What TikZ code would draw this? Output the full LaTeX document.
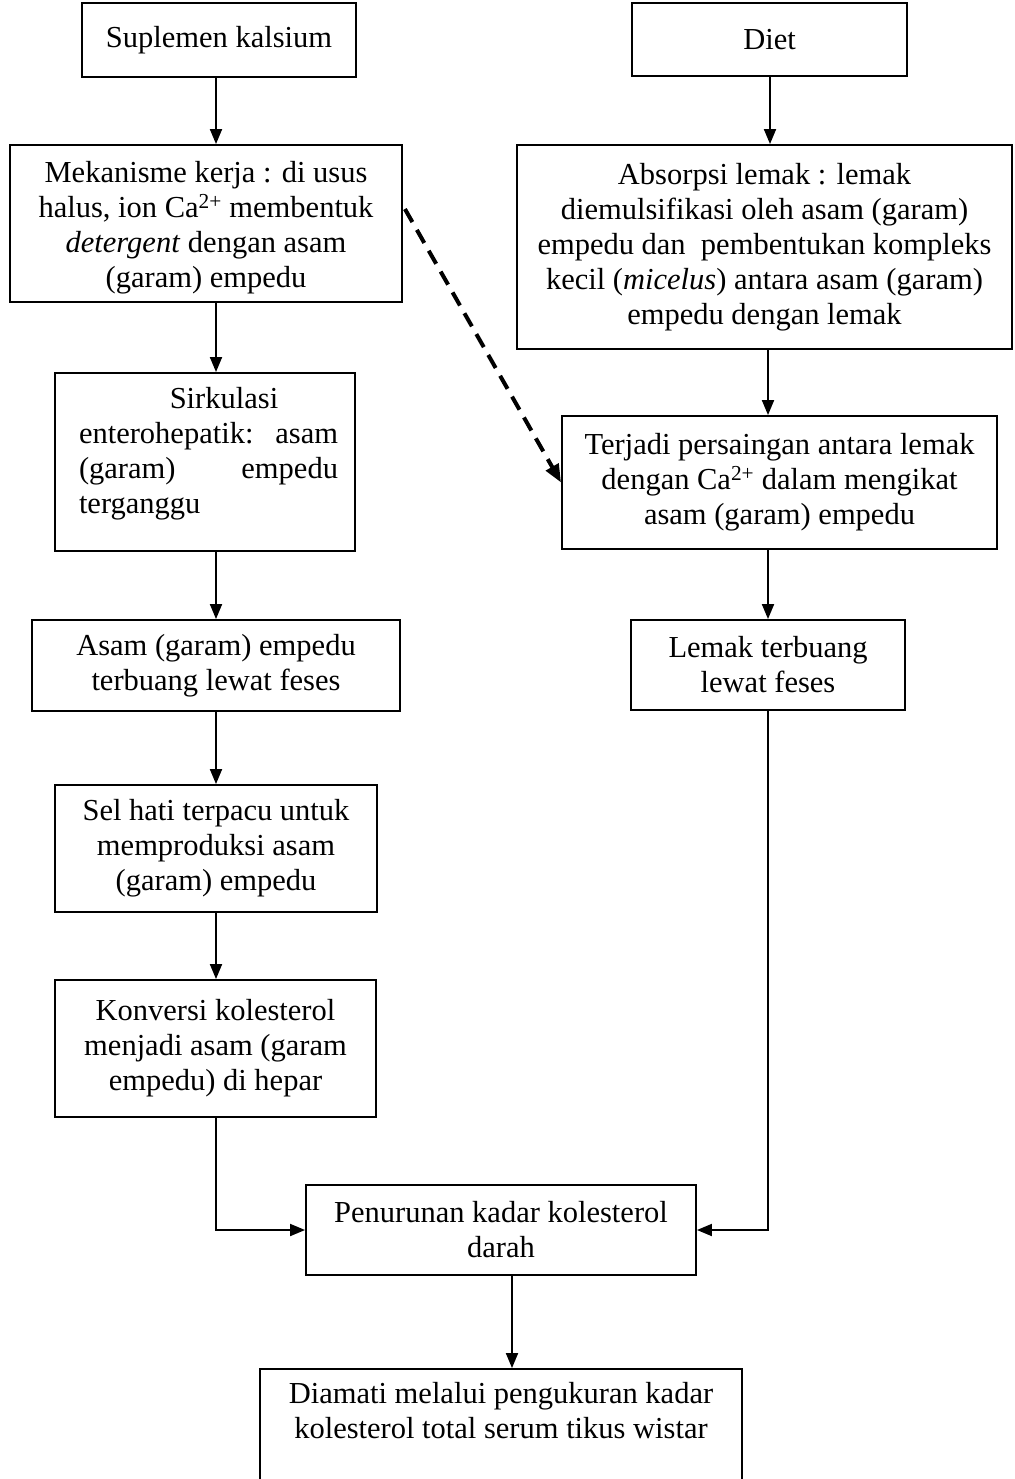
\documentclass[tikz,border=0pt]{standalone}
\usepackage{fontspec}
\setmainfont{Liberation Serif}
\usetikzlibrary{arrows.meta,calc}
\begin{document}
\begin{tikzpicture}[x=1pt,y=-1pt,
  box/.style={draw, line width=1.9pt, inner sep=0pt, align=center, font=\fontsize{30.5}{35}\selectfont},
  txt/.style={inner sep=0pt, font=\fontsize{30.5}{35}\selectfont},
  arr/.style={line width=1.9pt, -{Triangle[length=15pt,width=12pt]}},
  dasharr/.style={line width=4pt, dash pattern=on 15pt off 9pt, -{Triangle[length=18pt,width=14pt]}}]
\useasboundingbox (0,0) rectangle (1014,1479);
\fill[white] (0,0) rectangle (1014,1479);

% left column
\node[box, minimum width=274pt, minimum height=74pt] (sup) at (219,40) {Suplemen kalsium};
\node[box, minimum width=392pt, minimum height=157pt] (mek) at (206,223.5) {};
\node[txt, align=center] (mekt) at (206,227.5)
  {Mekanisme kerja : di usus\\ halus, ion Ca\textsuperscript{2+} membentuk\\ \textit{detergent} dengan asam\\ (garam) empedu};
\node[box, minimum width=300pt, minimum height=178pt] (sirk) at (205,462) {};
\node[txt, text width=259pt, align=left] (sirkt) at (208.5,454)
  {\makebox[\linewidth][c]{\hspace{31pt}Sirkulasi}\\
   \makebox[\linewidth][s]{enterohepatik:\hfill asam}\\
   \makebox[\linewidth][s]{(garam)\hfill empedu}\\
   terganggu};
\node[box, minimum width=368pt, minimum height=91pt] (asam) at (216,665.5)
  {Asam (garam) empedu\\ terbuang lewat feses};
\node[box, minimum width=322pt, minimum height=127pt] (sel) at (216,848.5)
  {Sel hati terpacu untuk\\ memproduksi asam\\ (garam) empedu};
\node[box, minimum width=321pt, minimum height=137pt] (konv) at (215.5,1048.5)
  {Konversi kolesterol\\ menjadi asam (garam\\ empedu) di hepar};

% right column
\node[box, minimum width=275pt, minimum height=73pt] (diet) at (769.5,39.5) {Diet};
\node[box, minimum width=495pt, minimum height=204pt] (abs) at (764.5,247)
  {Absorpsi lemak : lemak\\ diemulsifikasi oleh asam (garam)\\ empedu dan~ pembentukan kompleks\\ kecil (\textit{micelus}) antara asam (garam)\\ empedu dengan lemak};
\node[box, minimum width=435pt, minimum height=133pt] (terj) at (779.5,482.5)
  {Terjadi persaingan antara lemak\\ dengan Ca\textsuperscript{2+} dalam mengikat\\ asam (garam) empedu};
\node[box, minimum width=274pt, minimum height=90pt] (lemak) at (768,665)
  {Lemak terbuang\\ lewat feses};

% bottom
\node[box, minimum width=390pt, minimum height=90pt] (pen) at (501,1230)
  {Penurunan kadar kolesterol\\ darah};
\node[box, minimum width=482pt, minimum height=128pt] (diam) at (501,1433)
  {Diamati melalui pengukuran kadar\\ kolesterol total serum tikus wistar\\ \strut};

% connector x positions
\coordinate (xL) at (216,0);
\coordinate (xD) at (770,0);
\coordinate (xR) at (768,0);
\coordinate (xB) at (512,0);

\draw[arr] (sup.south -| xL) -- (mek.north -| xL);
\draw[arr] (mek.south -| xL) -- (sirk.north -| xL);
\draw[arr] (sirk.south -| xL) -- (asam.north -| xL);
\draw[arr] (asam.south -| xL) -- (sel.north -| xL);
\draw[arr] (sel.south -| xL) -- (konv.north -| xL);
\draw[arr] (konv.south -| xL) |- (pen.west);

\draw[arr] (diet.south -| xD) -- (abs.north -| xD);
\draw[arr] (abs.south -| xR) -- (terj.north -| xR);
\draw[arr] (terj.south -| xR) -- (lemak.north -| xR);
\draw[arr] (lemak.south -| xR) |- (pen.east);

\draw[arr] (pen.south -| xB) -- (diam.north -| xB);

\coordinate (dstart) at ($(mek.north east)+(2,65)$);
\draw[dasharr] (dstart) -- (terj.west);
\end{tikzpicture}
\end{document}
